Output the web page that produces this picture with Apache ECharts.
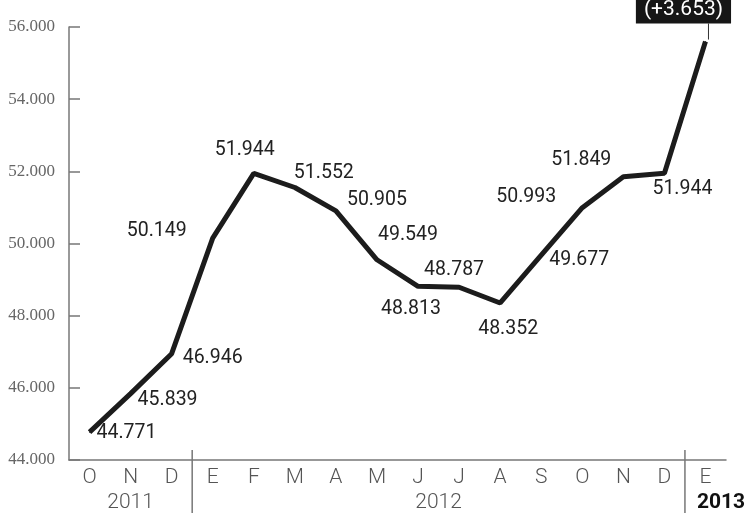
<!DOCTYPE html>
<html>
<head>
<meta charset="utf-8">
<script src="https://cdn.jsdelivr.net/npm/echarts@6/dist/echarts.min.js"></script>
<style>
html, body { margin: 0; padding: 0; background: #fff; }
#main { width: 747px; height: 513px; }
</style>
</head>
<body>
<div id="main"></div>
<script>
var months = ['O', 'N', 'D', 'E', 'F', 'M', 'A', 'M', 'J', 'J', 'A', 'S', 'O', 'N', 'D', 'E'];
var values = [44771, 45839, 46946, 50149, 51944, 51552, 50905, 49549, 48813, 48787, 48352, 49677, 50993, 51849, 51944, 55597];
var years = [
    { name: '2011', from: 0, to: 2 },
    { name: '2012', from: 3, to: 14 },
    { name: '2013', from: 15, to: 15 }
];
var yTicks = [44000, 46000, 48000, 50000, 52000, 54000, 56000];

// label placement around each point (pixels)
var labelOffsets = [[37, 1], [37, 6], [41, 4], [-56, -7], [-9, -23], [29, -14], [41, -11], [31, -25],
    [-7, 23], [-5, -17], [8, 26], [38, 5], [-56, -11], [-42, -17], [18, 16], [-22, -32]];

function fmt(v) {
    var s = String(Math.abs(v));
    return s.replace(/\B(?=(\d{3})+(?!\d))/g, '.');
}

var chart = echarts.init(document.getElementById('main'));

var seriesData = values.map(function(v, i) {
    var last = i === values.length - 1;
    var item = {
        value: v,
        label: {
            show: true,
            position: 'inside',
            offset: labelOffsets[i],
            formatter: last ? '(+' + fmt(v - values[i - 1]) + ')' : fmt(v)
        }
    };
    if (last) {
        item.label.color = '#fff';
        item.label.backgroundColor = '#161616';
        item.label.padding = [4, 8, 3, 8];
        item.label.fontSize = 21;
    }
    return item;
});

var option = {
    animation: false,
    grid: { left: 69, right: 21, top: 27, bottom: 53 },
    xAxis: {
        type: 'category',
        data: months,
        boundaryGap: true,
        axisLine: { lineStyle: { color: '#777', width: 1.5 } },
        axisTick: { inside: true, length: 10, lineStyle: { color: '#777', width: 1.5 } },
        axisLabel: {
            color: '#555', fontFamily: 'Roboto', fontWeight: 300, fontSize: 21, margin: 7
        }
    },
    yAxis: {
        type: 'value',
        min: yTicks[0],
        max: yTicks[yTicks.length - 1],
        interval: 2000,
        splitLine: { show: false },
        axisLine: { show: true, lineStyle: { color: '#777', width: 1.5 } },
        axisTick: { show: true, inside: true, length: 11, lineStyle: { color: '#777', width: 1.5 } },
        axisLabel: {
            color: '#666', fontFamily: 'Liberation Sans Narrow', fontSize: 17, margin: 14,
            formatter: function(v) { return fmt(v); }
        }
    },
    series: [{
        type: 'line',
        data: seriesData,
        symbol: 'circle',
        symbolSize: 1,
        showSymbol: true,
        lineStyle: { color: '#1c1c1c', width: 5 },
        itemStyle: { color: '#1c1c1c' },
        label: { color: '#222', fontFamily: 'Roboto', fontSize: 19.5 }
    }]
};
chart.setOption(option);

// year labels, separators and callout connector from scale positions
var graphics = [];
var half = (chart.convertToPixel({ xAxisIndex: 0 }, 1) - chart.convertToPixel({ xAxisIndex: 0 }, 0)) / 2;
var baseY = chart.convertToPixel({ yAxisIndex: 0 }, yTicks[0]);
years.forEach(function(yr, k) {
    var x0 = chart.convertToPixel({ xAxisIndex: 0 }, yr.from) - half;
    var x1 = chart.convertToPixel({ xAxisIndex: 0 }, yr.to) + half;
    var bold = k === years.length - 1;
    if (k > 0) {
        graphics.push({
            type: 'line',
            shape: { x1: x0, y1: baseY - 10, x2: x0, y2: baseY + 56 },
            style: { stroke: '#777', lineWidth: 1.5 }
        });
    }
    graphics.push({
        type: 'text',
        x: bold ? x0 + 12 : (x0 + x1) / 2,
        y: baseY + 43,
        style: {
            text: yr.name,
            align: bold ? 'left' : 'center',
            verticalAlign: 'middle',
            fontFamily: 'Roboto',
            fontWeight: bold ? 'bold' : 300,
            fontSize: 21,
            fill: bold ? '#111' : '#555'
        }
    });
});
var lastPt = chart.convertToPixel({ seriesIndex: 0 }, [values.length - 1, values[values.length - 1]]);
graphics.push({
    type: 'line',
    shape: { x1: lastPt[0] + 3, y1: lastPt[1] - 2, x2: lastPt[0] + 3, y2: lastPt[1] - 18 },
    style: { stroke: '#333', lineWidth: 1 }
});
chart.setOption({ graphic: graphics });
</script>
</body>
</html>
